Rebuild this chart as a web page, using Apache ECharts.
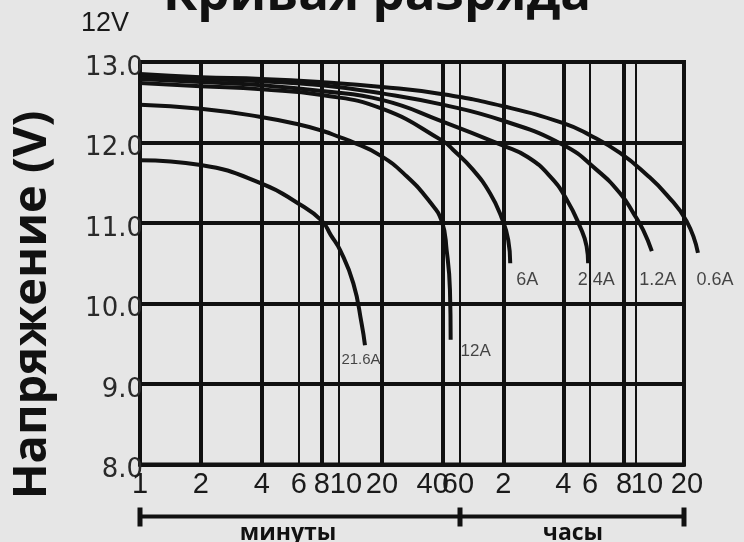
<!DOCTYPE html>
<html><head><meta charset="utf-8">
<script src="https://cdn.jsdelivr.net/npm/echarts@6/dist/echarts.min.js"></script>
<style>html,body{margin:0;padding:0;background:#e6e6e6;}#c{width:744px;height:542px;}</style>
</head><body><div id="c"></div>
<script>
// ---- x axis: discharge time, ticks in minutes (1 min .. 20 h) ----
const tickMinutes = [1, 2, 4, 6, 8, 10, 20, 40, 60, 120, 240, 360, 480, 600, 1200];
const tickLabels  = ['1','2','4','6','8','10','20','40','60','2','4','6','8','10','20'];
const thickMinutes = [1, 2, 4, 8, 20, 40, 120, 240, 480, 1200];
// ---- y axis: voltage ----
const yMin = 8, yMax = 13, yStep = 1;
// ---- discharge curves: [minutes, volts] ----
const seriesNames = ['21.6A', '12A', '6A', '2.4A', '1.2A', '0.6A'];
const c21_6A = [[1,11.78],[2,11.72],[4,11.49],[6,11.24],[8,11.03],[9,10.85],[10.2,10.66],[12.6,10.25],[14.4,9.75],[15.2,9.48]];
const c12A   = [[1,12.47],[2,12.42],[3.9,12.32],[6.1,12.22],[8.2,12.14],[10,12.07],[11.9,12.02],[19.4,11.84],[26.5,11.58],[34.6,11.26],[39.6,11.02],[43.9,10.66],[47.4,10.17],[48.2,9.55]];
const c6A    = [[1,12.74],[2,12.70],[4,12.66],[8,12.59],[20,12.42],[40,12.02],[51,11.91],[74,11.66],[97,11.37],[116,11.08],[127,10.79],[130,10.5]];
const c2_4A  = [[1,12.79],[2,12.75],[4,12.71],[8,12.64],[20,12.53],[40,12.26],[120,11.96],[159,11.82],[206,11.58],[253,11.29],[310,10.95],[342,10.71],[350,10.5]];
const c1_2A  = [[1,12.83],[2,12.79],[4,12.76],[8,12.71],[20,12.61],[40,12.47],[120,12.27],[240,11.97],[381,11.66],[464,11.37],[573,11.12],[666,10.91],[754,10.65]];
const c0_6A  = [[1,12.85],[2,12.81],[4,12.79],[8,12.75],[20,12.69],[40,12.60],[120,12.45],[240,12.24],[360,12.09],[464,11.87],[700,11.60],[935,11.35],[1248,11.02],[1468,10.63]];
const curves = [c21_6A, c12A, c6A, c2_4A, c1_2A, c0_6A];

// The printed time axis is a hand-drawn, non-uniform log scale.
// Scale definition: axis units of each tick (log-interpolated in between).
const scaleUnits = [0, 60.7, 121.7, 158.7, 181.7, 199, 242, 302.7, 320, 363.3, 423.3, 450, 484, 496, 544];
function toUnits(m) {
  const M = tickMinutes, U = scaleUnits;
  let i = 0;
  while (i < M.length - 2 && m > M[i + 1]) i++;
  return U[i] + (U[i + 1] - U[i]) * Math.log(m / M[i]) / Math.log(M[i + 1] / M[i]);
}
const uMax = scaleUnits[scaleUnits.length - 1];
// the longest curve runs past the 20 h frame line: a second, wider overlay grid carries the curves
const uOver = Math.max.apply(null, curves.map(c => toUnits(c[c.length - 1][0]))) + 4;

const gridLeft = 140, gridRight = 60, gridTop = 62, gridBottom = 77.5;
const plotW = 744 - gridLeft - gridRight;
const overRight = 744 - gridLeft - plotW * uOver / uMax;

// label styling per curve (offsets from curve end)
const endLabelStyle = [
  {offset: [-4, 14], fontSize: 15, fontFamily: '"Liberation Sans Narrow","Liberation Sans"'},
  {offset: [25, 12], fontSize: 17},
  {offset: [17, 17], fontSize: 18},
  {offset: [8, 17], fontSize: 18},
  {offset: [6, 29], fontSize: 18},
  {offset: [17, 27], fontSize: 18}
];
const labelShift = [0,0,0,0,0,7,0,-10,-2,0,0,0,0,11,3];

const thinMinutes = tickMinutes.filter(m => thickMinutes.indexOf(m) < 0);
const rich = {};
labelShift.forEach(s => {
  const k = 's' + (s < 0 ? 'm' + (-s) : s);
  rich[k] = {padding: s >= 0 ? [0, 0, 0, 2 * s] : [0, -2 * s, 0, 0],
             fontSize: 29, fontFamily: '"Liberation Sans Narrow","Liberation Sans"', color: '#1a1a1a'};
});

const chart = echarts.init(document.getElementById('c'), null, {renderer: 'canvas'});
const lineSeries = curves.map((c, i) => ({
  name: seriesNames[i], type: 'line', smooth: 0.5, showSymbol: false, clip: false,
  xAxisIndex: 2, yAxisIndex: 1,
  lineStyle: {color: '#111', width: 4}, z: 5,
  data: c.map(p => [toUnits(p[0]), p[1]])
}));
const labelSeries = {
  type: 'scatter', symbolSize: 1, clip: false, z: 6, silent: true,
  xAxisIndex: 2, yAxisIndex: 1,
  itemStyle: {color: 'rgba(0,0,0,0)'},
  data: curves.map((c, i) => {
    const last = c[c.length - 1];
    return {
      value: [toUnits(last[0]), last[1]], name: seriesNames[i],
      label: Object.assign({show: true, position: 'inside', formatter: '{b}', color: '#1a1a1a',
                            fontFamily: '"Liberation Sans", Arial'}, endLabelStyle[i])
    };
  })
};

chart.setOption({
  backgroundColor: '#e6e6e6',
  animation: false,
  grid: [
    {left: gridLeft, right: gridRight, top: gridTop, bottom: gridBottom, show: true, borderColor: '#111', borderWidth: 4, backgroundColor: 'transparent'},
    {left: gridLeft, right: overRight, top: gridTop, bottom: gridBottom, show: false}
  ],
  xAxis: [{
    type: 'value', min: 0, max: uMax, position: 'bottom', gridIndex: 0,
    axisLine: {show: true, lineStyle: {color: '#111', width: 4}},
    axisTick: {show: false, customValues: thickMinutes.map(toUnits)},
    splitLine: {show: true, lineStyle: {color: '#111', width: 4}},
    axisLabel: {
      customValues: tickMinutes.map(toUnits), margin: 6,
      formatter: v => {
        let best = 0;
        tickMinutes.forEach((m, i) => { if (Math.abs(toUnits(m) - v) < Math.abs(toUnits(tickMinutes[best]) - v)) best = i; });
        const s = labelShift[best];
        return '{s' + (s < 0 ? 'm' + (-s) : s) + '|' + tickLabels[best] + '}';
      },
      rich: rich
    }
  }, {
    type: 'value', min: 0, max: uMax, position: 'bottom', gridIndex: 0,
    axisLine: {show: false}, axisLabel: {show: false},
    axisTick: {show: false, customValues: thinMinutes.map(toUnits)},
    splitLine: {show: true, lineStyle: {color: '#111', width: 2}}
  }, {
    type: 'value', min: 0, max: uOver, gridIndex: 1, show: false
  }],
  yAxis: [{
    type: 'value', min: yMin, max: yMax, interval: yStep, gridIndex: 0,
    axisLine: {show: true, lineStyle: {color: '#111', width: 4}},
    axisTick: {show: false},
    splitLine: {show: true, lineStyle: {color: '#111', width: 4}},
    axisLabel: {margin: -3, formatter: v => '{a|' + v.toFixed(1) + '}',
                rich: {a: {padding: [12, 0, 0, 0], fontSize: 26, fontFamily: '"DejaVu Sans"', color: '#2a2a2a'}}}
  }, {
    type: 'value', min: yMin, max: yMax, gridIndex: 1, show: false
  }],
  series: lineSeries.concat([labelSeries])
});

// annotations placed through the chart's own scales
const y0 = chart.convertToPixel({yAxisIndex: 0}, yMin);
const xa = chart.convertToPixel({xAxisIndex: 0}, toUnits(1));
const xb = chart.convertToPixel({xAxisIndex: 0}, toUnits(60));
const xc = chart.convertToPixel({xAxisIndex: 0}, toUnits(1200));
const by = y0 + 52;
chart.setOption({
  graphic: [
    {type: 'text', x: 377, y: 21, style: {text: 'Кривая разряда', font: 'bold 51px "Open Sans"', fill: '#111', align: 'center', verticalAlign: 'bottom'}},
    {type: 'text', x: 81, y: 24, style: {text: '12V', font: '27px "Liberation Sans Narrow","Liberation Sans"', fill: '#1a1a1a', align: 'left', verticalAlign: 'middle'}},
    {type: 'text', x: 33, y: 305, rotation: Math.PI / 2, style: {text: 'Напряжение (V)', font: 'bold 47px "Open Sans"', fill: '#111', align: 'center', verticalAlign: 'middle'}},
    {type: 'line', shape: {x1: xa, y1: by, x2: xc, y2: by}, style: {stroke: '#111', lineWidth: 4}},
    {type: 'line', shape: {x1: xa, y1: by - 9, x2: xa, y2: by + 10}, style: {stroke: '#111', lineWidth: 5}},
    {type: 'line', shape: {x1: xb, y1: by - 9, x2: xb, y2: by + 10}, style: {stroke: '#111', lineWidth: 5}},
    {type: 'line', shape: {x1: xc, y1: by - 9, x2: xc, y2: by + 10}, style: {stroke: '#111', lineWidth: 5}},
    {type: 'text', x: 288, y: 533, style: {text: 'минуты', font: 'bold 23px "Open Sans"', fill: '#111', align: 'center', verticalAlign: 'middle'}},
    {type: 'text', x: 573, y: 533, style: {text: 'часы', font: 'bold 23px "Open Sans"', fill: '#111', align: 'center', verticalAlign: 'middle'}}
  ]
});
</script></body></html>
